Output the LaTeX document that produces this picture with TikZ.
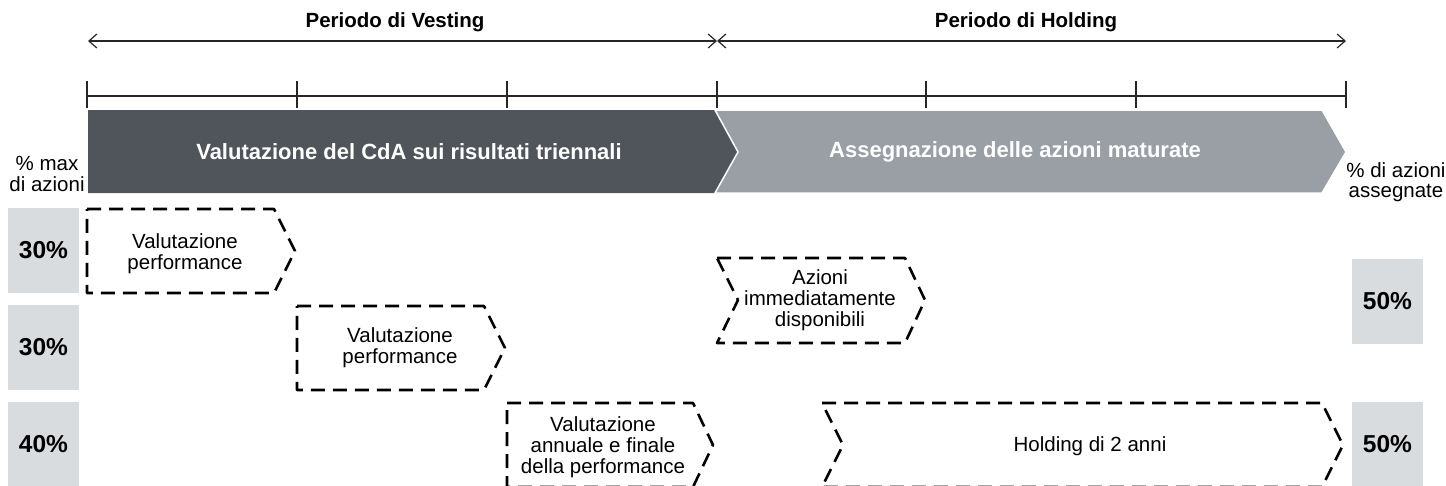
\documentclass[tikz,border=0pt]{standalone}
\usepackage{fontspec}
\setmainfont{Liberation Sans}
\usetikzlibrary{arrows.meta}
\definecolor{darkbar}{HTML}{50555B}
\definecolor{lightbar}{HTML}{9A9FA5}
\definecolor{pctbox}{HTML}{D9DCDF}
\begin{document}
\begin{tikzpicture}[x=1pt,y=-1pt,
  chev/.style={draw=black, line width=2.6pt, dash pattern=on 14pt off 8pt, line join=round},
  lbl/.style={font=\fontsize{20.5}{21}\selectfont, align=center, text=black, inner sep=0pt},
  pct/.style={fill=pctbox, minimum width=71pt, minimum height=85pt, inner sep=0pt, font=\bfseries\fontsize{24.5}{26}\selectfont},
  period/.style={font=\bfseries\fontsize{20.5}{22}\selectfont, inner sep=0pt},
  bartxt/.style={text=white, font=\bfseries\fontsize{22}{24}\selectfont, inner sep=0pt},
  side/.style={font=\fontsize{20.5}{21}\selectfont, align=center, inner sep=0pt},
  timeline/.style={line width=1.2pt, draw=black!85},
  span/.style={line width=1.2pt, draw=black!85, {Straight Barb[length=8pt,width=14pt]}-{Straight Barb[length=8pt,width=14pt]}}
]
\useasboundingbox (0,0) rectangle (1446,485);
\clip (0,0) rectangle (1446,485);

% top period labels and spans
\node[period] (vest) at (395,22) {Periodo di Vesting};
\node[period] (hold) at (1026,22) {Periodo di Holding};
\coordinate (a0) at (88,41);
\coordinate (a1) at (717,41);
\coordinate (a2) at (1346,41);
\draw[span] (a0) -- (a1);
\draw[span] (a1) -- (a2);

% timeline with ticks
\coordinate (t0) at (87,96);
\coordinate (t6) at (1346,96);
\draw[timeline] (t0) -- (t6);
\foreach \x in {87,297,507,717,926,1136,1346}
  \draw[timeline] (\x,81) -- (\x,108);

% phase bars
\fill[darkbar] (88,110) -- (715,110) -- (738,152) -- (715,193) -- (88,193) -- cycle;
\filldraw[fill=lightbar, draw=white, line width=1.5pt] (715,110) -- (1322,110) -- (1346,152) -- (1322,193) -- (715,193) -- (738,152) -- cycle;
\node[bartxt] (bar1) at (409,152) {Valutazione del CdA sui risultati triennali};
\node[bartxt] (bar2) at (1015,152) {Assegnazione delle azioni maturate};

% side headings
\node[side] (lhead) at (47,174) {\% max\\di azioni};
\node[side] (rhead) at (1396,182) {\% di azioni\\[-1pt]assegnate};

% percentage boxes
\node[pct] (p1) at (43.5,250.5) {30\%};
\node[pct] (p2) at (43.5,347.5) {30\%};
\node[pct] (p3) at (43.5,444.5) {40\%};
\node[pct] (q1) at (1387.5,301) {50\%};
\node[pct] (q2) at (1387.5,444.5) {50\%};

% dashed chevrons
\draw[chev] (87,209) -- (274,209) -- (295,251) -- (274,293) -- (87,293) -- cycle;
\draw[chev] (297,306) -- (484,306) -- (505,348) -- (484,390) -- (297,390) -- cycle;
\draw[chev] (507,403) -- (693,403) -- (713,445) -- (693,487) -- (507,487) -- cycle;
\draw[chev] (717,258) -- (905,258) -- (925,300) -- (905,343) -- (717,343) -- (738,300) -- cycle;
\draw[chev] (822,403) -- (1322,403) -- (1343,445) -- (1322,487) -- (822,487) -- (843,445) -- cycle;

\node[lbl] (c1) at (185,254) {Valutazione\\performance};
\node[lbl] (c2) at (400,348) {Valutazione\\performance};
\node[lbl] (c3) at (603,447) {Valutazione\\annuale e finale\\della performance};
\node[lbl] (c4) at (820,300) {Azioni\\immediatamente\\disponibili};
\node[lbl] (c5) at (1090,446) {Holding di 2 anni};
\end{tikzpicture}
\end{document}
